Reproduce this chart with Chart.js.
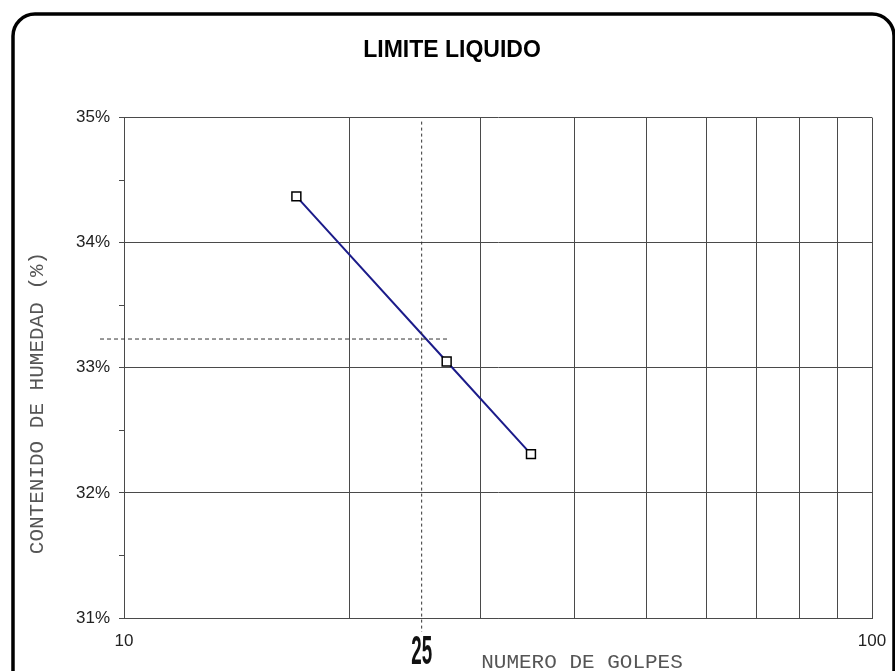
<!DOCTYPE html>
<html>
<head>
<meta charset="utf-8">
<script src="https://cdn.jsdelivr.net/npm/chart.js@4.4.1/dist/chart.umd.min.js"></script>
<style>
    html, body { margin: 0; padding: 0; background: #fff; }
    #wrap { width: 895px; height: 671px; }
</style>
</head>
<body>
<div id="wrap"><canvas id="ll-chart" width="895" height="671"></canvas></div>
<script>
// ensayo de limite liquido
const blows = [17, 27, 35];
const moisture = [34.37, 33.05, 32.31];

const xGridValues = [10, 20, 30, 40, 50, 60, 70, 80, 90, 100];
const xLabelValues = [10, 100];
const yTickValues = [31, 31.5, 32, 32.5, 33, 33.5, 34, 34.5, 35];

const standardBlows = 25;
const liquidLimit = 33.23;

const gridColor = '#4a4a4a';
const textColor = '#222';

function toTicks(values) {
    return values.map(v => ({ value: v }));
}

// marco, lineas de referencia y textos de ejes
const decorations = {
    id: 'decorations',
    beforeDraw(chart) {
        let ctx = chart.ctx;
        ctx.save();
        ctx.fillStyle = '#fff';
        ctx.fillRect(0, 0, chart.width, chart.height);
        ctx.strokeStyle = '#000';
        ctx.lineWidth = 3.5;
        ctx.beginPath();
        ctx.roundRect(13, 14, 881, 720, 22);
        ctx.stroke();
        ctx.restore();
    },
    afterDatasetsDraw(chart) {
        let ctx = chart.ctx;
        let x = chart.scales.x;
        let y = chart.scales.y;
        let area = chart.chartArea;

        let x25 = x.getPixelForValue(standardBlows);
        let yLL = y.getPixelForValue(liquidLimit);

        ctx.save();
        ctx.strokeStyle = '#333';
        ctx.lineWidth = 1;

        // vertical a 25 golpes
        ctx.setLineDash([3, 3]);
        ctx.beginPath();
        ctx.moveTo(x25, area.top + 4);
        ctx.lineTo(x25, area.bottom + 14);
        ctx.stroke();

        // horizontal al limite liquido
        ctx.setLineDash([4, 3]);
        ctx.beginPath();
        ctx.moveTo(area.left - 24, yLL);
        ctx.lineTo(x.getPixelForValue(blows[1]) + 2, yLL);
        ctx.stroke();
        ctx.setLineDash([]);

        // etiqueta "25" angosta
        ctx.fillStyle = '#111';
        ctx.font = 'bold 40px "Liberation Sans", Arial, sans-serif';
        ctx.textAlign = 'center';
        ctx.textBaseline = 'alphabetic';
        ctx.translate(x25, 664);
        ctx.scale(0.47, 1);
        ctx.fillText(String(standardBlows), 0, 0);
        ctx.restore();

        // titulos de ejes
        ctx.save();
        ctx.fillStyle = '#555';
        ctx.font = '21px "Liberation Mono", "Courier New", monospace';
        ctx.textAlign = 'center';
        ctx.textBaseline = 'alphabetic';
        ctx.fillText('NUMERO DE GOLPES', 582, 668);

        ctx.translate(43, 403);
        ctx.rotate(-Math.PI / 2);
        ctx.fillText('CONTENIDO DE HUMEDAD (%)', 0, 0);
        ctx.restore();
    }
};

let ctx = document.getElementById('ll-chart').getContext('2d');

new Chart(ctx, {
    type: 'scatter',
    data: {
        datasets: [{
            label: 'Limite liquido',
            data: blows.map((b, i) => ({ x: b, y: moisture[i] })),
            showLine: true,
            borderColor: '#1c1c8a',
            borderWidth: 2,
            pointStyle: 'rect',
            pointRadius: 6.3,
            pointHoverRadius: 6.3,
            pointBackgroundColor: '#fff',
            pointBorderColor: '#000',
            pointBorderWidth: 1.5,
            tension: 0
        }]
    },
    options: {
        responsive: false,
        animation: false,
        layout: {
            padding: { left: 32, right: 23, top: 0, bottom: 0 }
        },
        plugins: {
            legend: { display: false },
            tooltip: { enabled: false },
            title: {
                display: true,
                text: 'LIMITE LIQUIDO',
                color: '#000',
                font: { family: '"Liberation Sans", Arial, sans-serif', size: 23, weight: 'bold', lineHeight: 1.2 },
                padding: { top: 37, bottom: 53 }
            }
        },
        scales: {
            x: {
                type: 'logarithmic',
                min: 10,
                max: 100,
                afterBuildTicks: scale => { scale.ticks = toTicks(xGridValues); },
                afterFit: scale => {
                    scale.height = 53;
                    scale.paddingLeft = 0;
                    scale.paddingRight = 0;
                },
                grid: {
                    color: gridColor,
                    lineWidth: 1,
                    drawTicks: false
                },
                border: { color: gridColor, width: 1 },
                ticks: {
                    autoSkip: false,
                    maxRotation: 0,
                    padding: 13,
                    color: textColor,
                    font: { family: '"Liberation Sans", Arial, sans-serif', size: 17 },
                    callback: v => xLabelValues.includes(v) ? String(v) : ''
                }
            },
            y: {
                min: 31,
                max: 35,
                afterBuildTicks: scale => { scale.ticks = toTicks(yTickValues); },
                afterFit: scale => { scale.width = 92; },
                grid: {
                    color: c => Number.isInteger(c.tick.value) ? gridColor : 'rgba(0,0,0,0)',
                    tickColor: gridColor,
                    tickLength: 5,
                    lineWidth: 1
                },
                border: { color: gridColor, width: 1 },
                ticks: {
                    autoSkip: false,
                    padding: 9,
                    color: textColor,
                    font: { family: '"Liberation Sans", Arial, sans-serif', size: 17 },
                    callback: v => Number.isInteger(v) ? v + '%' : ''
                }
            }
        }
    },
    plugins: [decorations]
});
</script>
</body>
</html>
